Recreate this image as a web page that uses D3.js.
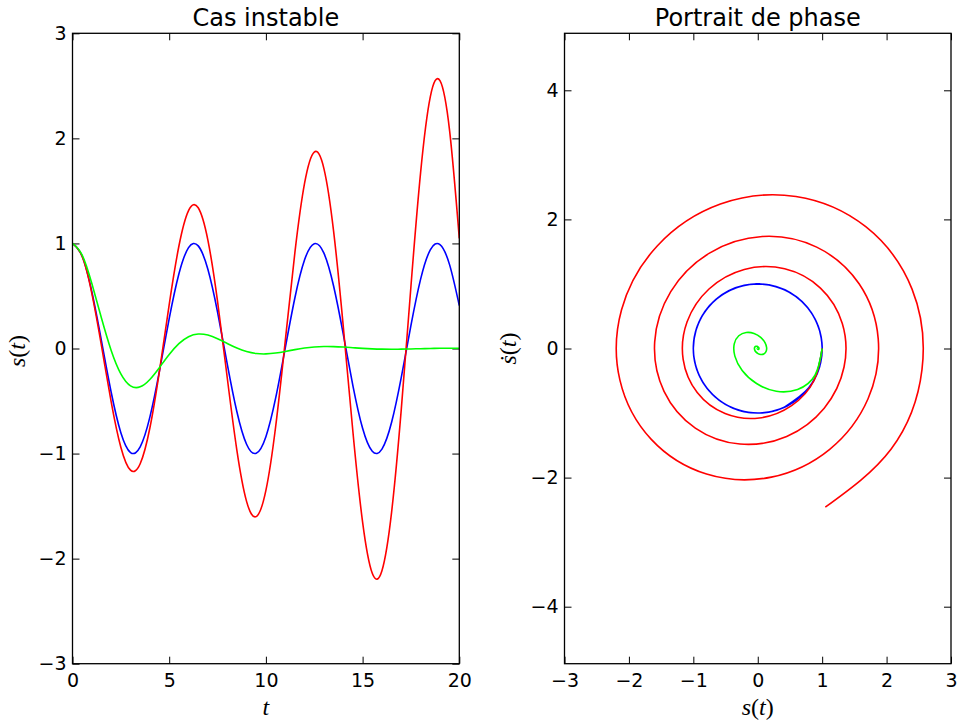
<!DOCTYPE html>
<html>
<head>
<meta charset="utf-8">
<script src="https://cdn.jsdelivr.net/npm/d3@7"></script>
<style>
  body { margin: 0; background: #fff; }
  svg { display: block; }
  .tick-label { font-family: "DejaVu Sans", sans-serif; font-size: 19px; fill: #000; }
  .title { font-family: "DejaVu Sans", sans-serif; font-size: 24px; fill: #000; }
  .math { font-family: "Liberation Serif", "DejaVu Serif", serif; font-size: 24px; fill: #000; }
</style>
</head>
<body>
<div id="chart"></div>
<script>
// time grid, step 0.5
var tValues = [0, 0.5, 1, 1.5, 2, 2.5, 3, 3.5, 4, 4.5, 5, 5.5, 6, 6.5, 7, 7.5, 8, 8.5, 9, 9.5,
  10, 10.5, 11, 11.5, 12, 12.5, 13, 13.5, 14, 14.5, 15, 15.5, 16, 16.5, 17, 17.5, 18, 18.5, 19, 19.5, 20];

// blue : oscillateur sans amortissement
var blueS = [1, 0.8776, 0.5403, 0.0707, -0.4161, -0.8011, -0.9900, -0.9365, -0.6536, -0.2108,
  0.2837, 0.7087, 0.9602, 0.9766, 0.7539, 0.3466, -0.1455, -0.6020, -0.9111, -0.9972,
  -0.8391, -0.4755, 0.0044, 0.4833, 0.8439, 0.9978, 0.9074, 0.5949, 0.1367, -0.3549,
  -0.7597, -0.9785, -0.9577, -0.7025, -0.2752, 0.2194, 0.6603, 0.9395, 0.9887, 0.7958, 0.4081];
var blueDs = [0, -0.4794, -0.8415, -0.9975, -0.9093, -0.5985, -0.1411, 0.3508, 0.7568, 0.9775,
  0.9589, 0.7055, 0.2794, -0.2151, -0.6570, -0.9380, -0.9894, -0.7985, -0.4121, 0.0752,
  0.5440, 0.8797, 1.0000, 0.8755, 0.5366, 0.0663, -0.4202, -0.8038, -0.9906, -0.9349,
  -0.6503, -0.2065, 0.2879, 0.7117, 0.9614, 0.9756, 0.7510, 0.3425, -0.1499, -0.6055, -0.9129];

// red : cas instable
var redS = [1, 0.8756, 0.5250, 0.0245, -0.5076, -0.9397, -1.1580, -1.0967, -0.7569, -0.2098,
  0.4182, 0.9733, 1.3126, 1.3396, 1.0318, 0.4492, -0.2761, -0.9693, -1.4548, -1.5998,
  -1.3506, -0.7494, 0.0704, 0.9149, 1.5732, 1.8699, 1.7123, 1.1171, 0.2106, -0.7951,
  -1.6527, -2.1398, -2.1144, -1.5570, -0.5798, 0.5928, 1.6767, 2.3953, 2.5495, 2.0714, 1.0487];
var redDs = [0, -0.4916, -0.8850, -1.0764, -1.0073, -0.6818, -0.1684, 0.4135, 0.9215, 1.2242,
  1.2351, 0.9364, 0.3874, -0.2871, -0.9241, -1.3618, -1.4801, -1.2327, -0.6631, 0.1021,
  0.8807, 1.4785, 1.7355, 1.5701, 1.0021, 0.1532, -0.7777, -1.5610, -1.9925, -1.9459,
  -1.4085, -0.4901, 0.5990, 1.5929, 2.2385, 2.3548, 1.8862, 0.9196, -0.3272, -1.5558, -2.4569];

// green : cas amorti
var greenS = [1, 0.8889, 0.6183, 0.2876, -0.0186, -0.2415, -0.3555, -0.3647, -0.2945, -0.1800,
  -0.0573, 0.0459, 0.1125, 0.1381, 0.1279, 0.0932, 0.0478, 0.0041, -0.0292, -0.0476,
  -0.0513, -0.0431, -0.0279, -0.0108, 0.0042, 0.0144, 0.0189, 0.0182, 0.0139, 0.0077,
  0.0015, -0.0034, -0.0063, -0.0072, -0.0063, -0.0042, -0.0019, 0.0003, 0.0018, 0.0026, 0.0026];
var greenDs = [0, -0.4142, -0.6338, -0.6618, -0.5429, -0.3400, -0.1177, 0.0719, 0.1971, 0.2482,
  0.2335, 0.1732, 0.0920, 0.0123, -0.0494, -0.0846, -0.0927, -0.0792, -0.0524, -0.0215,
  0.0060, 0.0251, 0.0339, 0.0332, 0.0257, 0.0148, 0.0035, -0.0056, -0.0112, -0.0129,
  -0.0115, -0.0080, -0.0037, 0.0002, 0.0031, 0.0045, 0.0047, 0.0038, 0.0023, 0.0007, -0.0006];

var leftXTicks = [0, 5, 10, 15, 20];
var leftYTicks = [-3, -2, -1, 0, 1, 2, 3];
var rightXTicks = [-3, -2, -1, 0, 1, 2, 3];
var rightYTicks = [-4, -2, 0, 2, 4];

var width = 958,
    height = 723;

var svg = d3.select("#chart")
  .append("svg")
    .attr("width", width)
    .attr("height", height);

// draw one panel (inward ticks on four sides, tick labels, title)
function panel(box, xDomain, yDomain, xTicks, yTicks, title) {
  var x = d3.scaleLinear().domain(xDomain).range([box.left, box.right]);
  var y = d3.scaleLinear().domain(yDomain).range([box.bottom, box.top]);
  var g = svg.append("g");
  var fmt = function(d) { return d < 0 ? "\u2212" + Math.abs(d) : "" + d; };
  var tl = 7;

  g.append("g")
    .attr("transform", "translate(0," + box.bottom + ")")
    .call(d3.axisBottom(x).tickValues(xTicks).tickSize(-tl).tickPadding(10).tickFormat(fmt));
  g.append("g")
    .attr("transform", "translate(0," + box.top + ")")
    .call(d3.axisTop(x).tickValues(xTicks).tickSize(-tl).tickFormat(""));
  g.append("g")
    .attr("transform", "translate(" + box.left + ",0)")
    .call(d3.axisLeft(y).tickValues(yTicks).tickSize(-tl).tickPadding(6).tickFormat(fmt));
  g.append("g")
    .attr("transform", "translate(" + box.right + ",0)")
    .call(d3.axisRight(y).tickValues(yTicks).tickSize(-tl).tickFormat(""));

  g.selectAll(".domain").remove();
  g.selectAll(".tick line").attr("stroke", "#000").attr("stroke-width", 1);
  g.selectAll(".tick text")
    .attr("class", "tick-label")
    .attr("font-family", null).attr("font-size", null);

  svg.append("text")
    .attr("class", "title")
    .attr("x", (box.left + box.right) / 2)
    .attr("y", 26)
    .attr("text-anchor", "middle")
    .text(title);

  return { x: x, y: y, g: g, box: box };
}

function frame(p) {
  svg.append("rect")
    .attr("x", p.box.left)
    .attr("y", p.box.top)
    .attr("width", p.box.right - p.box.left)
    .attr("height", p.box.bottom - p.box.top)
    .attr("fill", "none")
    .attr("stroke", "#000")
    .attr("stroke-width", 1.3);
}

var left = panel({ left: 72.5, right: 459.3, top: 33.3, bottom: 663.7 },
  [0, 20], [-3, 3], leftXTicks, leftYTicks, "Cas instable");
var right = panel({ left: 564.5, right: 951, top: 33.3, bottom: 663.7 },
  [-3, 3], [-4.883, 4.883], rightXTicks, rightYTicks, "Portrait de phase");

// curves, order : blue, red, green
var series = [
  { s: blueS, ds: blueDs, color: "#0000ff" },
  { s: redS, ds: redDs, color: "#ff0000" },
  { s: greenS, ds: greenDs, color: "#00ff00" }
];

svg.append("clipPath").attr("id", "clipL").append("rect")
  .attr("x", 72.5).attr("y", 33.3).attr("width", 459.3 - 72.5).attr("height", 663.7 - 33.3);
svg.append("clipPath").attr("id", "clipR").append("rect")
  .attr("x", 564.5).attr("y", 33.3).attr("width", 951 - 564.5).attr("height", 663.7 - 33.3);

var lineT = d3.line()
  .x(function(d, i) { return left.x(tValues[i]); })
  .y(function(d) { return left.y(d); })
  .curve(d3.curveNatural);

var gL = svg.append("g").attr("clip-path", "url(#clipL)");
var gR = svg.append("g").attr("clip-path", "url(#clipR)");

series.forEach(function(sr) {
  gL.append("path")
    .attr("d", lineT(sr.s))
    .attr("fill", "none")
    .attr("stroke", sr.color)
    .attr("stroke-width", 1.6);

  var phase = d3.line()
    .x(function(d, i) { return right.x(sr.s[i]); })
    .y(function(d, i) { return right.y(sr.ds[i]); })
    .curve(d3.curveNatural);
  gR.append("path")
    .attr("d", phase(tValues))
    .attr("fill", "none")
    .attr("stroke", sr.color)
    .attr("stroke-width", 1.6);
});

frame(left);
frame(right);

// axis labels (math italic)
function mathLabel(x, y, rot, dotted, name) {
  var t = svg.append("text")
    .attr("class", "math")
    .attr("text-anchor", "middle")
    .attr("transform", "translate(" + x + "," + y + ")" + (rot ? " rotate(-90)" : ""));
  if (name === "t") {
    t.append("tspan").attr("font-style", "italic").text("t");
    return;
  }
  t.append("tspan").attr("font-style", "italic").text(dotted ? "\u1e61" : "s");
  t.append("tspan").text("(");
  t.append("tspan").attr("font-style", "italic").text("t");
  t.append("tspan").text(")");
}

mathLabel(265.9, 715, false, false, "t");
mathLabel(757.7, 715, false, false, "s");
mathLabel(25, 351, true, false, "s");
mathLabel(516, 348.5, true, true, "s");
</script>
</body>
</html>
